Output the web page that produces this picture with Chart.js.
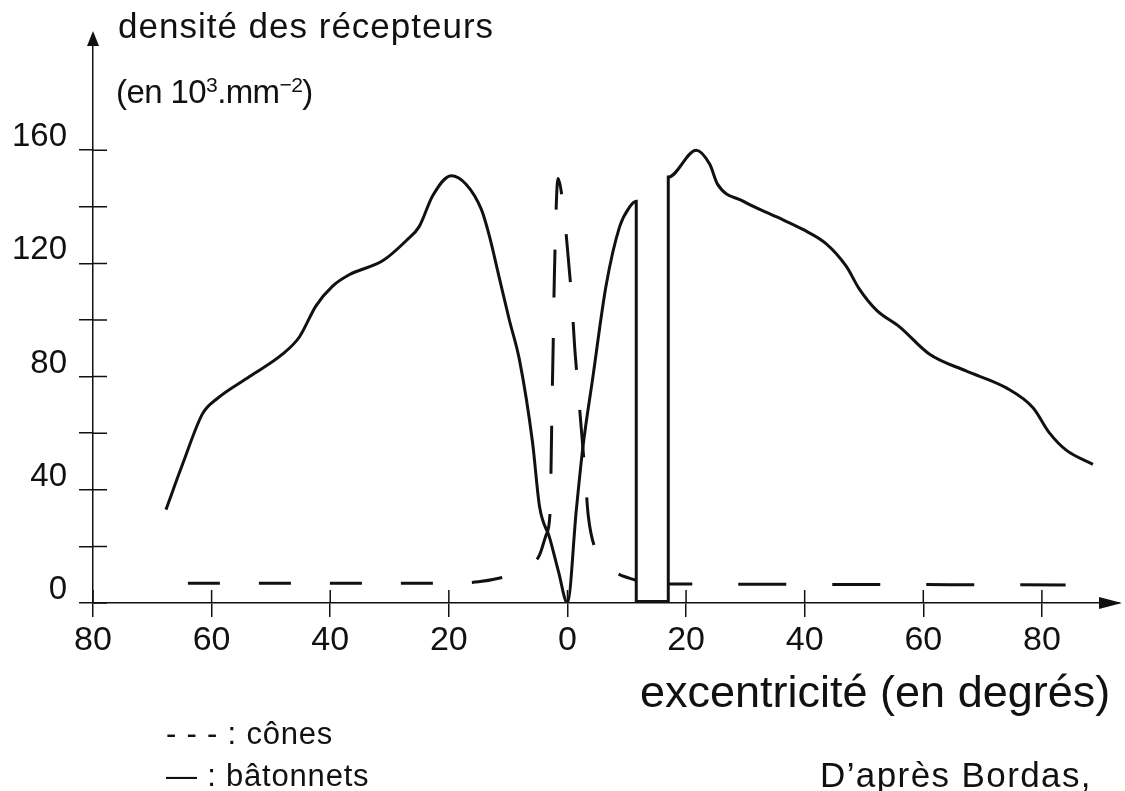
<!DOCTYPE html>
<html>
<head>
<meta charset="utf-8">
<script src="https://cdn.jsdelivr.net/npm/chart.js@4.4.1/dist/chart.umd.min.js"></script>
<style>
html, body { margin: 0; padding: 0; background: #fff; }
#wrap { position: relative; width: 1125px; height: 791px; overflow: hidden; }
#chart { position: absolute; left: 0; top: 0; }
.lbl { position: absolute; font-family: "Liberation Sans", Arial, sans-serif; color: #111; white-space: nowrap; line-height: 1; }
.lbl sup { font-size: 0.64em; vertical-align: 0.5em; line-height: 0; }
</style>
</head>
<body>
<div id="wrap">
<canvas id="chart" width="1125" height="791"></canvas>
<div class="lbl" style="left:118px; top:8px; font-size:35px; letter-spacing:1px;">densité des récepteurs</div>
<div class="lbl" style="left:116px; top:75px; font-size:33px; letter-spacing:-0.6px;">(en 10<sup>3</sup>.mm<sup>−2</sup>)</div>
<div class="lbl" style="left:640px; top:669px; font-size:45px;">excentricité (en degrés)</div>
<div class="lbl" style="left:166px; top:718px; font-size:31px; letter-spacing:0.8px;">- - - : cônes</div>
<div class="lbl" style="left:166px; top:760px; font-size:31px; letter-spacing:0.8px;">— : bâtonnets</div>
<div class="lbl" style="left:820px; top:757px; font-size:35px; letter-spacing:1.4px;">D’après Bordas,</div>
</div>
<script>
// excentricité (degrés), négatif = côté gauche du graphe
const rodsX = [-67.7, -64.9, -61.5, -59.2, -53.6, -48.0, -45.2, -42.4, -39.6, -36.8, -31.1, -27.2, -25.0, -22.7, -19.6, -17.1,
  -14.5, -13.2, -11.5, -9.8, -8.1, -5.9, -4.7, -3.0, -1.5, 0, 1.5, 2.6, 4.3, 6.5, 8.8, 10.5, 11.6,
  11.6, 17, 17, 21.7, 24, 25.3, 29.6, 35.2, 39.7, 43.6, 47.0, 49.2, 52.1, 56.0, 61.0, 67.2, 74.0, 78.5, 81.3, 84.1, 88.6];
const rodsY = [33, 49, 67, 72, 80, 88, 94, 105, 112, 116, 121, 128, 133, 144, 151, 148,
  139, 130, 115, 100, 86, 57, 34, 23, 11, 0, 33, 55, 80, 112, 133, 140, 142,
  0.5, 0.5, 150.5, 160, 155, 148, 142, 136.5, 132, 127, 119, 111, 103.5, 97.6, 88, 82, 76, 69, 60, 54, 49];

const conesX = [-64, -40, -20, -15, -11, -8, -6, -4.7, -3.6, -2.9, -2.75, -2.6, -2.4, -2.2, -1.6,
  -0.5, 0.3, 0.7, 1.2, 1.7, 2.2, 3.0, 3.5, 4.9, 6.5, 8.8, 11.6, 14, 17, 40, 84];
const conesY = [7, 7, 7, 7.5, 9, 11, 13.5, 17, 24, 33, 50, 70, 92, 116, 150,
  136, 118, 108, 91, 78, 65, 44.5, 31, 18, 13, 10, 8, null, 6.7, 6.6, 6.4];

const xTicks = [-80, -60, -40, -20, 0, 20, 40, 60, 80];
const yTicks = [0, 20, 40, 60, 80, 100, 120, 140, 160];

const toPoints = (xs, ys) => xs.map((x, i) => ({ x: x, y: ys[i] }));

const tickFont = { family: '"Liberation Sans", Arial, sans-serif', size: 34 };

// tirets des cônes : plus courts à gauche, plus longs à droite de la tache aveugle
const coneDash = c => {
  const x = c.p0.parsed.x;
  if (x < -11) return [32, 39];
  if (x < 13) return [48, 40];
  return [48, 46];
};
const coneDashOffset = c => {
  const x = c.p0.parsed.x;
  if (x < -11) return 0;
  if (x < 13) return 48;
  return 24;
};

const axisDecor = {
  id: 'axisDecor',
  afterDraw(chart) {
    const { ctx, chartArea } = chart;
    const xs = chart.scales.x, ys = chart.scales.y;
    const x0 = xs.getPixelForValue(-80);
    const y0 = ys.getPixelForValue(0);
    ctx.save();
    ctx.strokeStyle = '#111';
    ctx.fillStyle = '#111';
    ctx.lineWidth = 1.5;
    ctx.beginPath();
    yTicks.forEach(v => {
      const py = ys.getPixelForValue(v);
      ctx.moveTo(x0, py);
      ctx.lineTo(x0 + 14, py);
    });
    xTicks.forEach(v => {
      const px = xs.getPixelForValue(v);
      ctx.moveTo(px, y0);
      ctx.lineTo(px, y0 - 13);
    });
    ctx.stroke();
    // flèches
    ctx.beginPath();
    ctx.moveTo(x0, chartArea.top - 6);
    ctx.lineTo(x0 - 6, chartArea.top + 9);
    ctx.lineTo(x0 + 6, chartArea.top + 9);
    ctx.closePath();
    ctx.fill();
    ctx.beginPath();
    ctx.moveTo(chartArea.right + 3, y0);
    ctx.lineTo(chartArea.right - 20, y0 - 6);
    ctx.lineTo(chartArea.right - 20, y0 + 6);
    ctx.closePath();
    ctx.fill();
    ctx.restore();
  }
};

new Chart(document.getElementById('chart').getContext('2d'), {
  type: 'line',
  data: {
    datasets: [
      {
        label: 'bâtonnets',
        data: toPoints(rodsX, rodsY),
        borderColor: '#111',
        borderWidth: 3,
        pointRadius: 0,
        cubicInterpolationMode: 'monotone',
        spanGaps: false
      },
      {
        label: 'cônes',
        data: toPoints(conesX, conesY),
        borderColor: '#111',
        borderWidth: 3,
        pointRadius: 0,
        cubicInterpolationMode: 'monotone',
        spanGaps: false,
        segment: { borderDash: coneDash, borderDashOffset: coneDashOffset }
      }
    ]
  },
  options: {
    responsive: false,
    animation: false,
    layout: { padding: { left: 13, right: 6, top: 37, bottom: 128 } },
    plugins: {
      legend: { display: false },
      tooltip: { enabled: false }
    },
    scales: {
      x: {
        type: 'linear',
        min: -80,
        max: 93,
        afterBuildTicks: s => { s.ticks = xTicks.map(v => ({ value: v })); },
        afterFit: s => { s.height = 60; },
        grid: { drawOnChartArea: false, tickLength: 14, color: '#111', lineWidth: 1.5 },
        border: { color: '#111', width: 1.5 },
        ticks: { color: '#111', font: tickFont, padding: 3, maxRotation: 0, callback: v => Math.abs(v) }
      },
      y: {
        type: 'linear',
        min: 0,
        max: 200,
        afterBuildTicks: s => { s.ticks = yTicks.map(v => ({ value: v })); },
        afterFit: s => { s.width = 80; },
        grid: { drawOnChartArea: false, tickLength: 14, color: '#111', lineWidth: 1.5 },
        border: { color: '#111', width: 1.5 },
        ticks: { color: '#111', font: { family: tickFont.family, size: 33 }, padding: 12, labelOffset: -13, callback: v => (v % 40 === 0 ? v : '') }
      }
    }
  },
  plugins: [axisDecor]
});
</script>
</body>
</html>
